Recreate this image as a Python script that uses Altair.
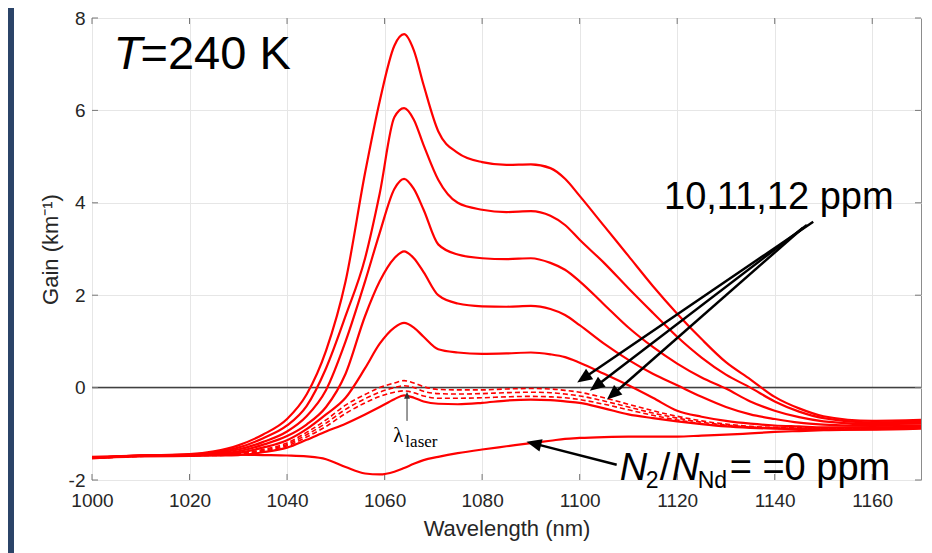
import math
import altair as alt
import pandas as pd

# ---------------- data ----------------
wavelength = [1000, 1010, 1020, 1025, 1030, 1035, 1040, 1044, 1048, 1052, 1056, 1059,
              1062, 1064, 1066, 1068, 1071, 1075, 1080, 1085, 1090, 1094, 1097, 1100,
              1105, 1110, 1115, 1120, 1125, 1130, 1135, 1140, 1145, 1150, 1160, 1170]

gain_a = [-1.52, -1.47, -1.44, -1.38, -1.25, -1.02, -0.68, -0.15, 0.80, 2.30, 4.65, 6.20,
          7.40, 7.65, 7.30, 6.55, 5.55, 5.08, 4.88, 4.82, 4.83, 4.75, 4.52, 4.15,
          3.50, 2.85, 2.20, 1.60, 1.05, 0.55, 0.18, -0.20, -0.45, -0.62, -0.72, -0.70]
gain_b = [-1.52, -1.47, -1.45, -1.40, -1.30, -1.10, -0.82, -0.40, 0.42, 1.55, 2.80, 4.20,
          5.85, 6.05, 5.80, 5.25, 4.50, 4.00, 3.85, 3.80, 3.82, 3.72, 3.52, 3.20,
          2.70, 2.15, 1.62, 1.10, 0.65, 0.28, 0.00, -0.30, -0.52, -0.66, -0.75, -0.74]
gain_c = [-1.52, -1.47, -1.45, -1.42, -1.34, -1.18, -0.95, -0.62, -0.05, 1.00, 2.30, 3.35,
          4.30, 4.52, 4.30, 3.85, 3.10, 2.88, 2.80, 2.78, 2.80, 2.70, 2.55, 2.30,
          1.80, 1.30, 0.88, 0.52, 0.22, -0.02, -0.30, -0.50, -0.64, -0.73, -0.79, -0.78]
gain_d = [-1.52, -1.47, -1.46, -1.44, -1.38, -1.24, -1.05, -0.80, -0.42, 0.30, 1.55, 2.30,
          2.80, 2.95, 2.80, 2.50, 2.00, 1.82, 1.76, 1.75, 1.77, 1.70, 1.57, 1.35,
          0.95, 0.60, 0.30, 0.05, -0.20, -0.42, -0.58, -0.68, -0.76, -0.80, -0.83, -0.82]
gain_e = [-1.52, -1.48, -1.46, -1.45, -1.41, -1.30, -1.14, -0.90, -0.58, -0.22, 0.42, 0.95,
          1.30, 1.40, 1.30, 1.10, 0.83, 0.76, 0.73, 0.74, 0.76, 0.72, 0.66, 0.54,
          0.30, 0.05, -0.22, -0.50, -0.63, -0.72, -0.78, -0.82, -0.84, -0.86, -0.86, -0.85]
gain_f = [-1.53, -1.49, -1.48, -1.47, -1.46, -1.40, -1.30, -1.13, -0.95, -0.78, -0.58, -0.42,
          -0.25, -0.17, -0.22, -0.30, -0.35, -0.36, -0.33, -0.28, -0.26, -0.27, -0.30, -0.33,
          -0.45, -0.58, -0.66, -0.73, -0.79, -0.84, -0.87, -0.89, -0.90, -0.91, -0.91, -0.89]
gain_zero = [-1.50, -1.47, -1.46, -1.46, -1.45, -1.46, -1.47, -1.49, -1.55, -1.72, -1.86, -1.88,
             -1.82, -1.74, -1.65, -1.57, -1.50, -1.42, -1.34, -1.27, -1.20, -1.15, -1.11, -1.09,
             -1.07, -1.06, -1.06, -1.06, -1.04, -1.02, -0.99, -0.96, -0.94, -0.92, -0.90, -0.87]

gain_10ppm = [-1.52, -1.48, -1.46, -1.46, -1.43, -1.34, -1.20, -0.97, -0.70, -0.38, -0.15, 0.00,
              0.10, 0.15, 0.10, 0.02, -0.04, -0.05, -0.05, -0.03, -0.02, -0.03, -0.06, -0.10,
              -0.22, -0.36, -0.50, -0.62, -0.72, -0.79, -0.84, -0.86, -0.87, -0.88, -0.88, -0.86]
gain_11ppm = [-1.52, -1.48, -1.47, -1.46, -1.44, -1.36, -1.23, -1.02, -0.77, -0.47, -0.24, -0.10,
              0.00, 0.04, 0.00, -0.08, -0.13, -0.14, -0.13, -0.11, -0.10, -0.11, -0.14, -0.18,
              -0.29, -0.42, -0.55, -0.66, -0.75, -0.81, -0.85, -0.87, -0.88, -0.89, -0.89, -0.87]
gain_12ppm = [-1.53, -1.49, -1.47, -1.47, -1.45, -1.38, -1.26, -1.07, -0.84, -0.56, -0.33, -0.19,
              -0.10, -0.07, -0.11, -0.18, -0.23, -0.23, -0.22, -0.20, -0.19, -0.20, -0.22, -0.26,
              -0.36, -0.48, -0.60, -0.70, -0.78, -0.83, -0.86, -0.88, -0.89, -0.90, -0.90, -0.88]

solid_series = {"a": gain_a, "b": gain_b, "c": gain_c, "d": gain_d, "e": gain_e,
                "f": gain_f, "zero": gain_zero}
dashed_series = {"10ppm": gain_10ppm, "11ppm": gain_11ppm, "12ppm": gain_12ppm}

x_ticks = [1000, 1020, 1040, 1060, 1080, 1100, 1120, 1140, 1160]
y_ticks = [-2, 0, 2, 4, 6, 8]

# annotation arrows (data coordinates): tail -> tip
arrow_tail_x = [1147.9, 1146.6, 1145.8, 1107.6]
arrow_tail_y = [3.59, 3.52, 3.46, -1.67]
arrow_tip_x = [1099.5, 1102.1, 1105.6, 1089.1]
arrow_tip_y = [0.11, -0.07, -0.26, -1.17]

laser_tail = (1064.6, -0.72)
laser_tip = (1064.6, -0.09)

# ---------------- layout ----------------
W, H = 829, 462
X_MIN, X_MAX, Y_MIN, Y_MAX = 1000, 1170, -2, 8
PX_X = W / (X_MAX - X_MIN)
PX_Y = H / (Y_MAX - Y_MIN)
RED = "#ff0000"
FONT = "Liberation Sans"
NAVY = "#2b4468"
AX_COL = "#262626"

axis_common = dict(
    grid=True, tickSize=0, domain=False, labelExpr="'' + datum.value",
    labelFont=FONT, labelFontSize=19, labelColor=AX_COL, labelFlush=False,
    labelOverlap=False,
    titleFont=FONT, titleFontWeight="normal", titleColor=AX_COL,
    gridColor="#e6e6e6", gridWidth=1,
)

xscale = alt.Scale(domain=[X_MIN, X_MAX], nice=False, zero=False)
yscale = alt.Scale(domain=[Y_MIN, Y_MAX], nice=False, zero=False)
xaxis = alt.Axis(values=x_ticks, title="Wavelength (nm)", labelPadding=11,
                 titlePadding=8, titleFontSize=22, **axis_common)
yaxis = alt.Axis(values=y_ticks, title="Gain (km⁻¹)", labelPadding=7,
                 titlePadding=6, titleFontSize=22, **axis_common)


def X(f="x"):
    return alt.X(f"{f}:Q", scale=xscale, axis=xaxis)


def Y(f="y"):
    return alt.Y(f"{f}:Q", scale=yscale, axis=yaxis)


def long_df(series):
    rows = []
    for name, vals in series.items():
        for w, g in zip(wavelength, vals):
            rows.append({"series": name, "x": w, "y": g})
    return pd.DataFrame(rows)


solid = alt.Chart(long_df(solid_series)).mark_line(
    color=RED, strokeWidth=2.2, interpolate="monotone"
).encode(x=X(), y=Y(), detail="series:N")

dashed = alt.Chart(long_df(dashed_series)).mark_line(
    color=RED, strokeWidth=1.6, strokeDash=[5, 3], interpolate="monotone"
).encode(x=X(), y=Y(), detail="series:N")

zero_line = alt.Chart(pd.DataFrame({"y": [0]})).mark_rule(
    color="#404040", strokeWidth=1.5
).encode(y=Y())

# inward ticks (MATLAB style)
tl_y = 6 / PX_Y
tl_x = 6 / PX_X
tick_rows = []
for v in x_ticks:
    tick_rows.append({"x": v, "y": Y_MIN, "x2": v, "y2": Y_MIN + tl_y})
    tick_rows.append({"x": v, "y": Y_MAX, "x2": v, "y2": Y_MAX - tl_y})
for v in y_ticks:
    tick_rows.append({"x": X_MIN, "y": v, "x2": X_MIN + tl_x, "y2": v})
    tick_rows.append({"x": X_MAX, "y": v, "x2": X_MAX - tl_x, "y2": v})
ticks = alt.Chart(pd.DataFrame(tick_rows)).mark_rule(color="#777777", strokeWidth=1).encode(
    x=X(), y=Y(), x2="x2:Q", y2="y2:Q")


def arrow_frames(tx, ty, hx, hy, head_len):
    lines, heads = [], []
    for x0, y0, x1, y1 in zip(tx, ty, hx, hy):
        dx = (x1 - x0) * PX_X
        dy = -(y1 - y0) * PX_Y
        L = math.hypot(dx, dy)
        ang = math.degrees(math.atan2(dx, -dy)) % 360
        f = (L - head_len * 0.8) / L
        lines.append({"x": x0, "y": y0, "x2": x0 + (x1 - x0) * f, "y2": y0 + (y1 - y0) * f})
        heads.append({"x": x1, "y": y1, "ang": ang})
    return pd.DataFrame(lines), pd.DataFrame(heads)


HEAD = "M0,0L-0.42,1L0.42,1Z"
al, ah = arrow_frames(arrow_tail_x, arrow_tail_y, arrow_tip_x, arrow_tip_y, 15)
arrow_lines = alt.Chart(al).mark_rule(color="black", strokeWidth=2.5).encode(
    x=X(), y=Y(), x2="x2:Q", y2="y2:Q")
arrow_heads = alt.Chart(ah).mark_point(
    shape=HEAD, filled=True, size=900, color="black", opacity=1, strokeWidth=0
).encode(x=X(), y=Y(), angle=alt.Angle("ang:Q", scale=None))

ll, lh = arrow_frames([laser_tail[0]], [laser_tail[1]], [laser_tip[0]], [laser_tip[1]], 7)
laser_line = alt.Chart(ll).mark_rule(color="#333333", strokeWidth=1).encode(
    x=X(), y=Y(), x2="x2:Q", y2="y2:Q")
laser_head = alt.Chart(lh).mark_point(
    shape=HEAD, filled=True, size=196, color="#333333", opacity=1, strokeWidth=0
).encode(x=X(), y=Y(), angle=alt.Angle("ang:Q", scale=None))


def text_layer(x, y, text, size, dx=0, dy=0, style="normal", font=FONT):
    return alt.Chart(pd.DataFrame({"x": [x], "y": [y], "t": [text]})).mark_text(
        align="left", baseline="alphabetic", fontSize=size, font=font,
        fontStyle=style, dx=dx, dy=dy, color="black"
    ).encode(x=X(), y=Y(), text="t:N")


NX = 1108.2
texts = [
    text_layer(1004.4, 6.9, "T", 47, style="italic"),
    text_layer(1004.4, 6.9, "=240 K", 47, dx=27),
    text_layer(1117.3, 3.87, "10,11,12 ppm", 38),
    text_layer(NX, -2.0, "N", 38, style="italic"),
    text_layer(NX, -2.0, "2", 23, dx=26, dy=8),
    text_layer(NX, -2.0, "/", 38, dx=40),
    text_layer(NX, -2.0, "N", 38, dx=52, style="italic"),
    text_layer(NX, -2.0, "Nd", 23, dx=78, dy=8),
    text_layer(NX, -2.0, "= =0 ppm", 38, dx=110),
    text_layer(1061.8, -1.174, "λ", 21, font="Liberation Serif"),
    text_layer(1061.8, -1.174, "laser", 17, dx=12, dy=5, font="Liberation Serif"),
]

navy_bar = alt.Chart(pd.DataFrame({"a": [0]})).mark_rule(color=NAVY, strokeWidth=7).encode(
    x=alt.value(-81.5), y=alt.value(-12), y2=alt.value(540))

chart = alt.layer(
    navy_bar, zero_line, ticks, solid, dashed, laser_line, laser_head,
    arrow_lines, arrow_heads, *texts
).properties(
    width=W, height=H,
    autosize=alt.AutoSizeParams(type="none"),
    padding={"left": 84, "top": 10, "right": 3, "bottom": 73},
    background="white",
).configure_view(
    stroke="#8c8c8c", strokeWidth=1
)

chart.save("out.html", embed_options={"renderer": "svg", "actions": False})
